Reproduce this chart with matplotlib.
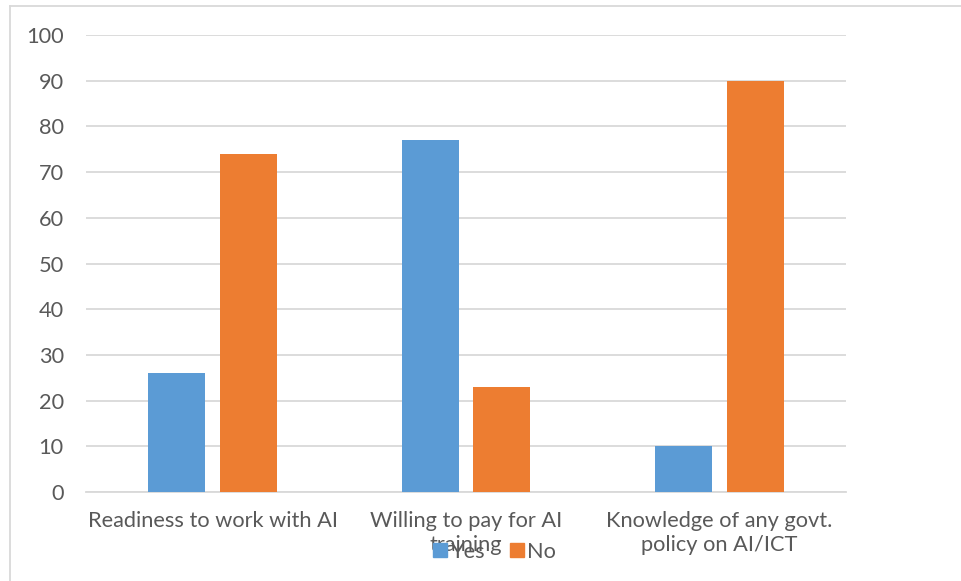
import numpy as np
import matplotlib.pyplot as plt
from matplotlib.lines import Line2D

# Survey responses (percent)
categories = ['Readiness to work with AI',
              'Willing to pay for AI\ntraining',
              'Knowledge of any govt.\npolicy on AI/ICT']
yes_values = [26, 77, 10]
no_values = [74, 23, 90]
series_names = ['Yes', 'No']

BLUE = '#5B9BD5'
ORANGE = '#ED7D31'
GRID = '#D9D9D9'
TEXT = '#595959'
FONT_SIZE = 15.7


def plot_responses(output_file='out.png'):
    plt.rcParams['font.family'] = ['Lato', 'DejaVu Sans']

    fig = plt.figure(figsize=(9.61, 5.81), dpi=100)
    ax = fig.add_axes([86 / 961, 1 - 492 / 581, 760 / 961, 457 / 581])

    x = np.arange(len(categories))
    width = 0.225
    offset = 0.142
    ax.bar(x - offset, yes_values, width, color=BLUE, label=series_names[0], zorder=3)
    ax.bar(x + offset, no_values, width, color=ORANGE, label=series_names[1], zorder=3)

    ax.set_xlim(-0.5, len(categories) - 0.5)
    ax.set_ylim(0, 100)
    ax.set_yticks(np.arange(0, 101, 10))
    ax.yaxis.grid(True, color=GRID, linewidth=1.3, zorder=0)
    ax.set_axisbelow(True)

    for side in ['top', 'right', 'left']:
        ax.spines[side].set_visible(False)
    ax.spines['bottom'].set_color(GRID)
    ax.spines['bottom'].set_linewidth(1.3)

    ax.set_xticks(x)
    ax.set_xticklabels(categories, fontsize=FONT_SIZE, color=TEXT, linespacing=1.2)
    ax.tick_params(axis='both', length=0, labelsize=FONT_SIZE, labelcolor=TEXT)
    ax.tick_params(axis='x', pad=14)
    ax.tick_params(axis='y', pad=16)

    # Legend sits below the plot, overlapping the wrapped label
    handles = [Line2D([0], [0], marker='s', linestyle='none', markersize=10,
                      markerfacecolor=c, markeredgecolor=c) for c in (BLUE, ORANGE)]
    fig.legend(handles, series_names, loc='center', ncol=2, frameon=False,
               bbox_to_anchor=(494 / 961, 1 - 552 / 581), fontsize=FONT_SIZE,
               labelcolor=TEXT, handletextpad=0.1, columnspacing=1.0,
               handlelength=0.8)

    # Chart frame edges
    fig.add_artist(Line2D([10 / 961, 10 / 961], [0, 1 - 6 / 581], color=GRID,
                          linewidth=1.3, transform=fig.transFigure))
    fig.add_artist(Line2D([10 / 961, 1], [1 - 6 / 581, 1 - 6 / 581], color=GRID,
                          linewidth=1.3, transform=fig.transFigure))

    fig.savefig(output_file, dpi=100)


if __name__ == '__main__':
    plot_responses()
